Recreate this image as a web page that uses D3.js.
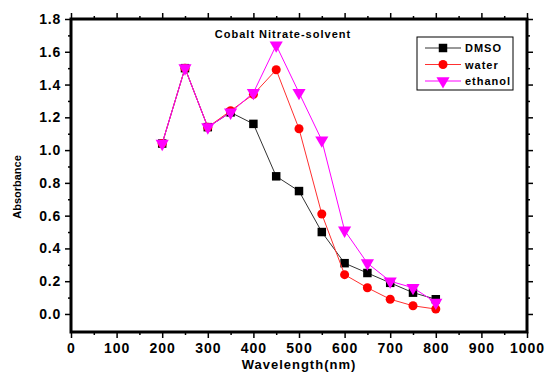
<!DOCTYPE html>
<html>
<head>
<meta charset="utf-8">
<script src="https://cdn.jsdelivr.net/npm/d3@7"></script>
<style>
  body { margin: 0; background: #fff; }
  text { font-family: "Liberation Sans", Arial, sans-serif; font-weight: bold; }
</style>
</head>
<body>
<script>
const wavelength = [200, 250, 300, 350, 400, 450, 500, 550, 600, 650, 700, 750, 800];
const dmso = [1.04, 1.50, 1.14, 1.23, 1.16, 0.84, 0.75, 0.50, 0.31, 0.25, 0.19, 0.13, 0.09];
const water = [1.04, 1.50, 1.14, 1.24, 1.34, 1.49, 1.13, 0.61, 0.24, 0.16, 0.09, 0.05, 0.03];
const ethanol = [1.04, 1.50, 1.14, 1.23, 1.35, 1.64, 1.35, 1.06, 0.51, 0.31, 0.20, 0.16, 0.07];
const xTicks = [0, 100, 200, 300, 400, 500, 600, 700, 800, 900, 1000];
const yTicks = [0.0, 0.2, 0.4, 0.6, 0.8, 1.0, 1.2, 1.4, 1.6, 1.8];

const width = 546;
const height = 372;
const plot = { left: 71, right: 527, top: 19, bottom: 332 };

const svg = d3.select('body').append('svg')
  .attr('width', width)
  .attr('height', height);

const x = d3.scaleLinear().domain([0, 1000]).range([plot.left, plot.right]);
const y = d3.scaleLinear().domain([-0.11, 1.8]).range([plot.bottom, plot.top]);

// minor ticks halfway between the majors
const xMinor = d3.range(50, 1000, 100);
const yMinor = d3.range(0.1, 1.8, 0.2);

function ticksOn(axisFn, scale, major, minor, translate) {
  svg.append('g')
    .attr('transform', translate)
    .call(axisFn(scale).tickValues(minor).tickSize(3).tickFormat(''))
    .call(g => g.select('.domain').remove())
    .call(g => g.selectAll('line').attr('stroke-width', 1.5));
  return svg.append('g')
    .attr('transform', translate)
    .call(axisFn(scale).tickValues(major).tickSize(6).tickPadding(4))
    .call(g => g.select('.domain').remove())
    .call(g => g.selectAll('line').attr('stroke-width', 1.5));
}

const gx = ticksOn(d3.axisBottom, x, xTicks, xMinor, `translate(0,${plot.bottom})`);
gx.selectAll('text').attr('font-size', 14).attr('letter-spacing', 1).attr('fill', '#000').attr('dy', '0.8em')
  .text(d => d3.format('d')(d));
ticksOn(d3.axisTop, x, xTicks, xMinor, `translate(0,${plot.top})`).selectAll('text').remove();

const gy = ticksOn(d3.axisLeft, y, yTicks, yMinor, `translate(${plot.left},0)`);
gy.selectAll('text').attr('font-size', 14).attr('letter-spacing', 0.8).attr('fill', '#000')
  .text(d => d3.format('.1f')(d));
ticksOn(d3.axisRight, y, yTicks, yMinor, `translate(${plot.right},0)`).selectAll('text').remove();

svg.append('rect')
  .attr('x', plot.left)
  .attr('y', plot.top)
  .attr('width', plot.right - plot.left)
  .attr('height', plot.bottom - plot.top)
  .attr('fill', 'none')
  .attr('stroke', '#000')
  .attr('stroke-width', 3);

const series = [
  { name: 'DMSO', values: dmso, color: '#000', line: '#333', symbol: d3.symbolSquare, size: 72, rot: 0 },
  { name: 'water', values: water, color: '#ff0000', line: '#ff3030', symbol: d3.symbolCircle, size: 64, rot: 0 },
  { name: 'ethanol', values: ethanol, color: '#ff00ff', line: '#ff00ff', symbol: d3.symbolTriangle, size: 75, rot: 180 },
];

const line = d3.line()
  .x(d => x(d[0]))
  .y(d => y(d[1]));

series.forEach(s => {
  const pts = wavelength.map((w, i) => [w, s.values[i]]);
  svg.append('path')
    .attr('d', line(pts))
    .attr('fill', 'none')
    .attr('stroke', s.line)
    .attr('stroke-width', 1);
  svg.append('g').selectAll('path')
    .data(pts)
    .join('path')
    .attr('d', d3.symbol().type(s.symbol).size(s.size))
    .attr('transform', d => `translate(${x(d[0])},${y(d[1])}) rotate(${s.rot})`)
    .attr('fill', s.color);
});

svg.append('text')
  .attr('x', 283)
  .attr('y', 38)
  .attr('text-anchor', 'middle')
  .attr('font-size', 11)
  .attr('letter-spacing', 1)
  .text('Cobalt Nitrate-solvent');

// legend
const legend = svg.append('g');
legend.append('rect')
  .attr('x', 417).attr('y', 37)
  .attr('width', 96).attr('height', 53)
  .attr('fill', '#fff')
  .attr('stroke', '#000')
  .attr('stroke-width', 1);

series.forEach((s, i) => {
  const ly = 48 + i * 16.5;
  legend.append('line')
    .attr('x1', 425).attr('x2', 461)
    .attr('y1', ly).attr('y2', ly)
    .attr('stroke', s.line)
    .attr('stroke-width', 1);
  legend.append('path')
    .attr('d', d3.symbol().type(s.symbol).size(s.size)())
    .attr('transform', `translate(443,${ly}) rotate(${s.rot})`)
    .attr('fill', s.color);
  legend.append('text')
    .attr('x', 465)
    .attr('y', ly + 4)
    .attr('font-size', 11)
    .attr('letter-spacing', 1)
    .text(s.name);
});

svg.append('text')
  .attr('x', (plot.left + plot.right) / 2)
  .attr('y', 369)
  .attr('text-anchor', 'middle')
  .attr('font-size', 13)
  .attr('letter-spacing', 1)
  .text('Wavelength(nm)');

svg.append('text')
  .attr('transform', 'translate(21,187) rotate(-90)')
  .attr('text-anchor', 'middle')
  .attr('font-size', 11)
  .text('Absorbance');
</script>
</body>
</html>
